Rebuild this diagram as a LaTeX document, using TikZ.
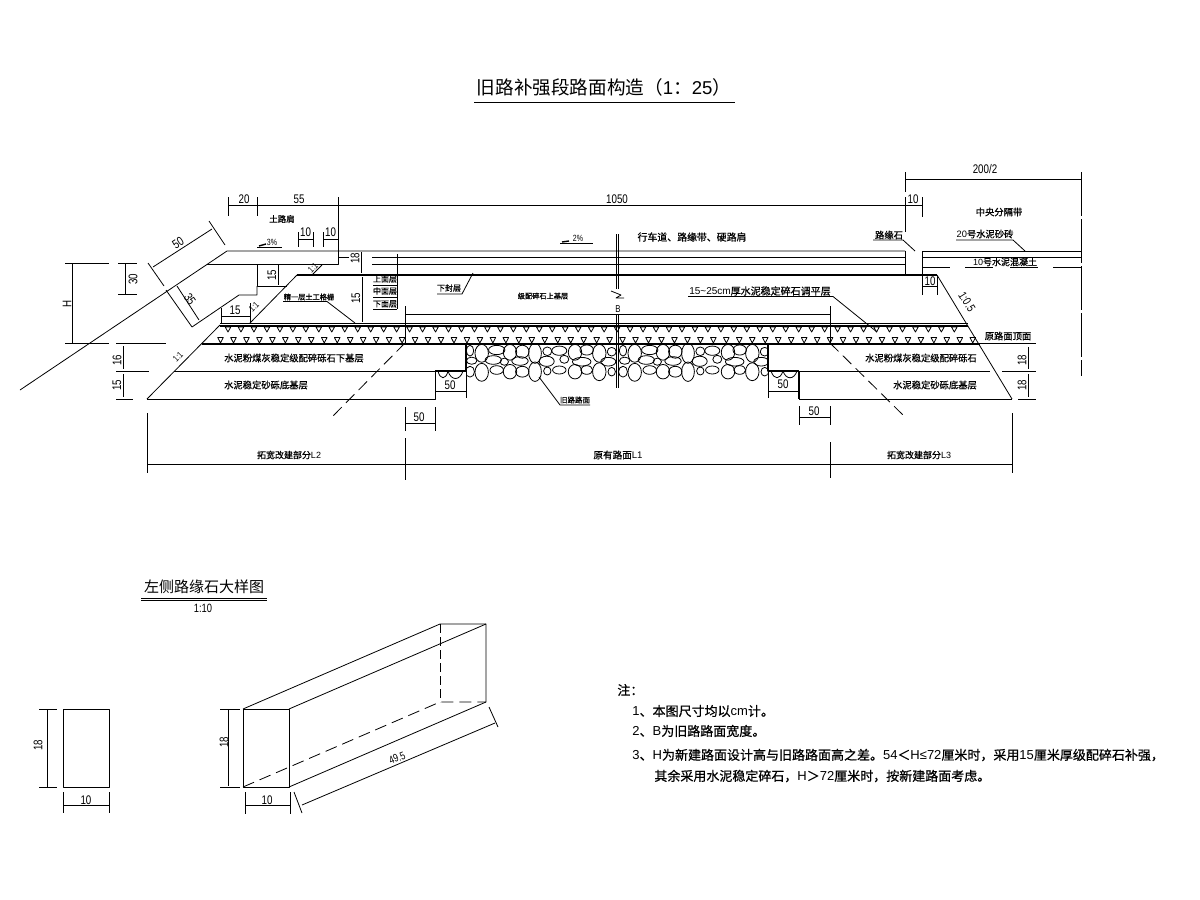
\documentclass[tikz,border=0pt]{standalone}
\usepackage{fontspec}
\setmainfont{Liberation Sans}[FakeStretch=0.78]
\newfontfamily\latn{Liberation Sans}
\newfontfamily\cjk{Noto Sans CJK SC}
\newfontfamily\cjkb{Noto Sans CJK SC}[FakeBold=0.7]
\usetikzlibrary{positioning,calc}
\newcommand{\fsz}[1]{\fontsize{#1}{#1}\selectfont}
\newcommand{\ltn}[1]{{\latn #1}}
\tikzset{
  thin line/.style = {line width = .8pt},
  heavy line/.style = {line width = 2pt},
  dim/.style = {font = \fsz{12.5}, inner sep = 0pt},
  lab/.style = {font = \cjkb\fsz{9.3}, inner sep = 0pt},
  note/.style = {font = \cjkb\fsz{13}, inner sep = 0pt, anchor = west}
}
\begin{document}
\begin{tikzpicture}[x = 1pt, y = -1pt, thin line, line join = round]
    \useasboundingbox (0,0) rectangle (1200,900);
    % Titles
    \node[font = \cjk\fsz{18.6}, inner sep = 0pt] (title) at (604,87) {旧路补强段路面构造（\ltn{1}：\ltn{25}）};
    \draw (474,102) -- (735,102);
    \node[font = \cjk\fsz{15}, inner sep = 0pt] (curbtitle) at (204,587) {左侧路缘石大样图};
    \draw (141,598) -- (267,598);
    \draw (141,600) -- (267,600);
    \node[dim, font = \fsz{12}] (curbscale) at (203,608) {1:10};
    % Embankment and shoulder
    \draw (20,390) -- (227,251) -- (905,251);
    \draw (207,264) -- (338,264) -- (338,251);
    \draw (338,257) -- (349,257);
    \draw (372,257) -- (905,257);
    \draw (372,264) -- (905,264);
    \draw (257,264) -- (257,286) -- (287,286);
    \draw (257,286) -- (257,295) -- (239,295) -- (192,327) -- (166,290);
    \draw[heavy line] (297,275) -- (937,275);
    \draw (297,275) -- (250,323);
    \draw (322,265) -- (312,275);
    % Cut line through the old road
    \draw (616,234) -- (616,289);
    \draw (618,234) -- (618,289);
    \draw (611,291) -- (621,295) -- (616,298) -- (624,298);
    \node[dim, font = \fsz{10}] (roadb) at (618,309) {B};
    \draw (616,315) -- (616,388);
    \draw (618,315) -- (618,388);
    % Base layers
    \draw (220,323) -- (968,323);
    \draw[heavy line] (220,325.5) -- (968,325.5);
    \draw[heavy line] (202,343.5) -- (980,343.5);
    \draw (147,399) -- (220,325);
    \draw (174,371) -- (435,371);
    \draw (147,399) -- (435,399) -- (435,371);
    \draw[line width = 1.4pt] (466,343) -- (466,371) -- (435,371);
    \draw[line width = 1.4pt] (768,343) -- (768,371) -- (799,371);
    \draw (799,371) -- (990,371);
    \draw[line width = 1.4pt] (799,371) -- (799,399);
    \draw (799,399) -- (1012,399);
    \draw (937,275) -- (1012,399);
    \draw[dashed, dash pattern = on 12pt off 6pt] (405,343) -- (332,417);
    \draw[dashed, dash pattern = on 12pt off 6pt] (830,343) -- (905,417);
    % Triangles
    \foreach \i in {0,...,56}
      \draw (225.2+12.97*\i,327) -- ++(5.6,0) -- ++(-2.8,5) -- cycle;
    \foreach \i in {0,...,58}
      \draw (217.7+12.97*\i,337.5) -- ++(5.6,0) -- ++(-2.8,5.5) -- cycle;
    % Old road stones
    \begin{scope}
      \clip (466.5,344.5) rectangle (767.5,392);
      \foreach \dx in {0,153}
        \foreach \cx/\cy/\rx/\ry in {481.7/353.3/6/8.3, 496.7/350/7.3/4.3, 510/352.3/6/7.3, 522.3/351.7/6/6, 535/353.3/5.7/9.3, 547.3/351.3/4/4, 559.3/350.7/6.7/4.3, 575/352.3/6/7.3, 586.7/350/6/4.7, 599.3/353.3/6/8.3, 611.7/351.7/4/4, 470/350.7/3.3/5, 471.7/360.7/4.7/3.3, 493.3/360/7.3/4, 504.3/361.7/3.7/3.3, 520/361/7.3/4, 546.7/361.3/6.7/4.7, 564.3/359.3/4/3.7, 581.7/361.7/8.3/4, 608.3/361.7/6.7/4, 481.7/372.3/6/8.3, 496.7/370/6/4, 510/371.7/6/6.7, 522.3/371.7/6/5, 535/371.7/5.7/9, 547.3/371/3.3/3.7, 559.3/370/6/3.7, 575/371.7/6/6.7, 586.7/370/5.3/4, 599.3/371.7/6/8.3, 611.7/371.7/3.3/4, 470/371.7/4/5}
          \draw (\cx+\dx,\cy) ellipse [x radius = 1.12*\rx, y radius = 1.08*\ry];
    \end{scope}
    \draw (438,371) .. controls (440,380) and (446,380) .. (448,371);
    \draw (448,371) .. controls (451,381) and (460,381) .. (463,371);
    \draw (771,371) .. controls (774,380) and (780,380) .. (783,371);
    \draw (783,371) .. controls (786,380) and (794,380) .. (797,371);
    % Median
    \draw (905,251) -- (905,275);
    \draw (922,251) -- (922,275);
    \draw (922,251) -- (1081,251);
    \draw (922,257) -- (1081,257);
    \draw (922,267) -- (950,267);
    \draw (965,267) -- (993,267);
    \draw (1010,267) -- (1038,267);
    \draw (1053,267) -- (1081,267);
    % Top dimensions
    \draw (228,205) -- (922,205);
    \draw (228,197) -- (228,216);
    \draw (257,197) -- (257,216);
    \draw (338,197) -- (338,251);
    \draw (922,197) -- (922,217);
    \draw (905,179) -- (1081,179);
    \draw (905,172) -- (905,192);
    \draw (905,197) -- (905,232);
    \draw[dash pattern = on 44pt off 3pt] (1081,172) -- (1081,376);
    \node[dim] (d20) at (244,199) {20};
    \node[dim] (d55) at (299,199) {55};
    \node[dim] (d1050) at (617,199) {1050};
    \node[dim] (d200) at (985,169) {200/2};
    \node[dim] (d10m) at (913,199) {10};
    % Small top dimensions
    \draw (298,239) -- (313,239);
    \draw (298,232) -- (298,247);
    \draw (313,232) -- (313,247);
    \draw (323,239) -- (338,239);
    \draw (323,232) -- (323,247);
    \node[dim] (d10a) at (305.5,232) {10};
    \node[dim] (d10b) at (330.5,232) {10};
    % Left dimensions
    \draw (153,267) -- (212,229);
    \draw (148,263) -- (164,286);
    \draw (209,221) -- (225,245);
    \node[dim, rotate = 33] (d50s) at (178,243) {50};
    \draw (177,286) -- (199,320);
    \node[dim, rotate = -55] (d35) at (190,299) {35};
    \draw (65,263) -- (109,263);
    \draw (65,343) -- (109,343);
    \draw (72,263) -- (72,343);
    \node[dim, rotate = 90] (dh) at (67,304) {H};
    \draw (118,263) -- (137,263);
    \draw (118,294) -- (137,294);
    \draw (125,263) -- (125,294);
    \node[dim, rotate = 90] (d30) at (133,279) {30};
    \draw (116,343) -- (166,343);
    \draw (116,371) -- (149,371);
    \draw (116,399) -- (133,399);
    \draw (123,346) -- (123,369);
    \draw (123,374) -- (123,397);
    \node[dim, rotate = 90] (d16) at (117,360) {16};
    \node[dim, rotate = 90] (d15a) at (117,385) {15};
    % Dimensions inside the shoulder
    \draw (278,265) -- (278,285);
    \node[dim, rotate = 90] (d15b) at (272,275) {15};
    \draw (221,316) -- (250,316);
    \draw (221,308) -- (221,323);
    \draw (250,303) -- (250,323);
    \node[dim] (d15c) at (235,310) {15};
    \draw (361,252) -- (361,273);
    \node[dim, rotate = 90] (d18a) at (355,258) {18};
    \draw (362,277) -- (362,322);
    \node[dim, rotate = 90] (d15d) at (356,298) {15};
    \node[dim, font = \fsz{9}, rotate = 45] (slopea) at (313,268) {1:1};
    \node[dim, font = \fsz{9}, rotate = 45] (slopeb) at (254,307) {1:1};
    \node[dim, font = \fsz{9}, rotate = 45] (slopec) at (178,357) {1:1};
    \node[dim, font = \fsz{12}, rotate = -58] (sloped) at (967,302) {1:0.5};
    % Lower dimensions
    \draw (435,391) -- (466,391);
    \draw (466,371) -- (466,398);
    \node[dim] (d50a) at (450,385) {50};
    \draw (405,423) -- (435,423);
    \draw (405,407) -- (405,431);
    \draw (435,407) -- (435,431);
    \node[dim] (d50b) at (419,417) {50};
    \draw (768,391) -- (799,391);
    \draw (768,371) -- (768,398);
    \node[dim] (d50c) at (783,384) {50};
    \draw (799,417) -- (830,417);
    \draw (799,406) -- (799,425);
    \draw (830,406) -- (830,425);
    \node[dim] (d50d) at (814,411) {50};
    \draw (147,464) -- (1012,464);
    \draw (147,413) -- (147,473);
    \draw (405,438) -- (405,480);
    \draw (830,442) -- (830,478);
    \draw (1012,413) -- (1012,473);
    \draw (405,306) -- (405,343);
    \draw (830,306) -- (830,343);
    \draw (405,314) -- (830,314);
    % Right dimensions
    \draw (922,286) -- (937,286);
    \draw (922,276) -- (922,295);
    \draw (937,276) -- (937,295);
    \node[dim] (d10c) at (930,281) {10};
    \draw (980,343) -- (1036,343);
    \draw (1002,371) -- (1036,371);
    \draw (1018,399) -- (1036,399);
    \draw (1028,347) -- (1028,369);
    \draw (1028,374) -- (1028,397);
    \node[dim, rotate = 90] (d18b) at (1022,360) {18};
    \node[dim, rotate = 90] (d18c) at (1022,385) {18};
    % Slope marks
    \draw (257,247) -- (282,247);
    \draw[line width = 1.4pt] (259,246) -- (266,244);
    \node[dim, font = \fsz{9}] (slope3) at (272,242) {3\%};
    \draw (560,243) -- (593,243);
    \draw[line width = 1.4pt] (562,242) -- (569,241);
    \node[dim, font = \fsz{9}] (slope2) at (578,238) {2\%};
    % Labels
    \node[lab, font = \cjkb\fsz{8.5}] (shoulder) at (282,219) {土路肩};
    \node[lab, font = \cjkb\fsz{9.9}] (carriage) at (692,237) {行车道、路缘带、硬路肩};
    \node[lab] (median) at (999,212) {中央分隔带};
    \node[lab, font = \cjkb\fsz{8}] (upper) at (385,279) {上面层};
    \draw (373,285) -- (397,285);
    \node[lab, font = \cjkb\fsz{8}] (middle) at (385,291) {中面层};
    \draw (373,297) -- (397,297);
    \node[lab, font = \cjkb\fsz{8}] (lower) at (385,304) {下面层};
    \draw (373,309) -- (397,309);
    \draw (397,254) -- (397,309);
    \node[lab, font = \cjkb\fsz{8}] (seal) at (449,288) {下封层};
    \draw (437,294) -- (462,294) -- (473,273);
    \node[lab, font = \cjkb\fsz{7.2}] (gravel) at (543,296) {级配碎石上基层};
    \node[lab, font = \cjkb\fsz{7.2}] (geo) at (309,297) {精一层土工格栅};
    \draw (283,301.5) -- (327,301.5) -- (355,323);
    \node[lab] (flyash) at (294,358) {水泥粉煤灰稳定级配碎砾石下基层};
    \node[lab] (sand) at (266,385) {水泥稳定砂砾底基层};
    \node[lab] (flyashr) at (921,358) {水泥粉煤灰稳定级配碎砾石};
    \node[lab] (sandr) at (935,385) {水泥稳定砂砾底基层};
    \node[lab, font = \cjkb\fsz{7.5}] (oldroad) at (575,400) {旧路路面};
    \draw (539,377) -- (560,405) -- (590,405);
    \node[lab, font = \cjkb\fsz{9}] (widenl) at (289,455) {拓宽改建部分\ltn{L2}};
    \node[lab, font = \cjkb\fsz{9.6}] (oldw) at (618,455) {原有路面\ltn{L1}};
    \node[lab, font = \cjkb\fsz{9}] (widenr) at (919,455) {拓宽改建部分\ltn{L3}};
    \node[lab, font = \cjkb\fsz{10}] (leveling) at (760,291) {\ltn{15\textasciitilde25cm}厚水泥稳定碎石调平层};
    \draw (688,296.5) -- (833,296.5) -- (877,332);
    \node[lab] (oldtop) at (1008,336) {原路面顶面};
    \node[lab] (curbstone) at (889,235) {路缘石};
    \draw (873,240) -- (903,240) -- (915,251);
    \node[lab] (mortar) at (985,234) {\ltn{20}号水泥砂砖};
    \draw (956,240) -- (1013,240) -- (1025,251);
    \node[lab, font = \cjkb\fsz{9}] (concrete) at (1005,262) {\ltn{10}号水泥混凝土};
    % Curb front view
    \draw (63,709) rectangle (109,787);
    \draw (47,709) -- (47,787);
    \draw (39,709) -- (57,709);
    \draw (39,787) -- (57,787);
    \node[dim, rotate = 90] (c18a) at (38,745) {18};
    \draw (63,805) -- (109,805);
    \draw (63,792) -- (63,813);
    \draw (109,792) -- (109,813);
    \node[dim] (c10a) at (86,800) {10};
    % Curb view in depth
    \draw (243,709) rectangle (289,787);
    \draw (243,709) -- (440,624) -- (486,624) -- (486,702) -- (289,787);
    \draw (289,709) -- (486,624);
    \draw[dashed, dash pattern = on 12pt off 6pt] (243,787) -- (440,702) -- (486,702);
    \draw[dashed, dash pattern = on 9pt off 4pt] (440,624) -- (440,702);
    \draw (228,709) -- (228,786);
    \draw (220,709) -- (240,709);
    \draw (220,787) -- (240,787);
    \node[dim, rotate = 90] (c18b) at (224,742) {18};
    \draw (245,805) -- (290,805);
    \draw (245,792) -- (245,814);
    \draw (290,792) -- (290,814);
    \node[dim] (c10b) at (267,800) {10};
    \draw (302,805) -- (495,723);
    \draw (294,792) -- (302,813);
    \draw (489,707) -- (498,727);
    \node[dim, font = \fsz{11}, rotate = 23] (c495) at (397,758) {49.5};
    % Notes
    \node[note] (n0) at (617,690) {注：};
    \node[note] (n1) at (632,711) {\ltn{1}、本图尺寸均以\ltn{cm}计。};
    \node[note] (n2) at (632,731) {\ltn{2}、\ltn{B}为旧路路面宽度。};
    \node[note] (n3) at (632,755) {\ltn{3}、\ltn{H}为新建路面设计高与旧路路面高之差。\ltn{54}＜\ltn{H≤72}厘米时，采用\ltn{15}厘米厚级配碎石补强，};
    \node[note] (n4) at (654,776) {其余采用水泥稳定碎石，\ltn{H}＞\ltn{72}厘米时，按新建路面考虑。};
  \end{tikzpicture}
\end{document}
